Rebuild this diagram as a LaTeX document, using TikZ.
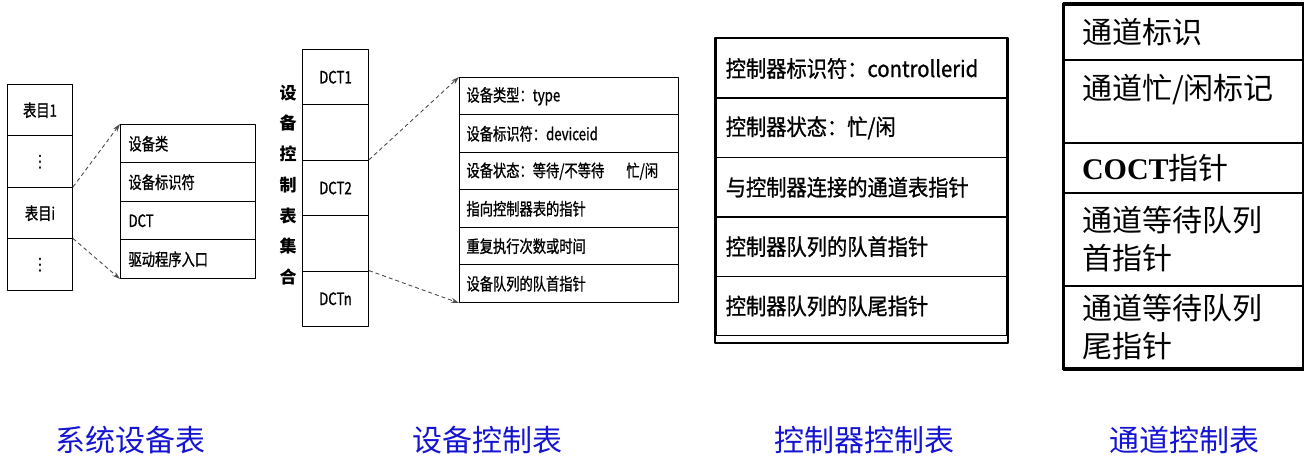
\documentclass[tikz,border=0pt]{standalone}
\usepackage{fontspec}
\setmainfont{Liberation Serif}
\newfontfamily\cjk{Noto Sans CJK SC}
\newfontfamily\symfont{DejaVu Sans}
\newfontfamily\cjkslim[FakeStretch=0.78,FakeBold=1]{Noto Sans CJK SC}
\newfontfamily\cjkmid[FakeStretch=0.9,FakeBold=1]{Noto Sans CJK SC}
\newcommand\sdtfont{\cjkslim\fontsize{17}{20}\selectfont}
\newcommand\coctfont{\cjkmid\fontsize{22.5}{26}\selectfont}
\newcommand\chctfont{\cjk\fontsize{30}{38}\selectfont}
\newcommand\vtfont{\cjk\bfseries\fontsize{17}{30.7}\selectfont}
\newcommand\vdotsign{{\symfont ⋮}}
\definecolor{labelblue}{RGB}{20,20,210}
\usetikzlibrary{arrows.meta}

\begin{document}
\begin{tikzpicture}[x=1pt, y=-1pt, line join=round, >={Stealth[length=8pt, width=5pt]},
    crow/.style 2 args={draw, line width=1pt, anchor=north west, inner sep=0pt, minimum width=#1, minimum height=#2, align=center},
    lrow/.style 2 args={draw, line width=1pt, anchor=north west, inner xsep=8pt, inner ysep=0pt, text width=#1-16pt, minimum height=#2, align=left},
    link/.style={->, dash pattern=on 4pt off 3pt, gray!60!black, line width=0.9pt},
    caption/.style={font=\cjk\fontsize{30}{32}\selectfont, text=labelblue}]
  \useasboundingbox (0,0) rectangle (1304,470);

  % system device table
  \foreach \t [count=\i] in {表目1, \vdotsign, 表目i, \vdotsign}
    \node[crow={65}{51.5}, font=\sdtfont] (sdt\i) at ({7},{84+(\i-1)*51.5}) {\t};
  \foreach \t [count=\i] in {设备类, 设备标识符, DCT, 驱动程序入口}
    \node[lrow={135}{38.5}, font=\sdtfont] (sdf\i) at ({120},{124+(\i-1)*38.5}) {\t};
  \draw[link] (sdt3.north east) -- (sdf1.north west);
  \draw[link] (sdt4.north east) -- (sdf4.south west);

  % device control table
  \node[font=\vtfont, align=center] (dctset) at (288,185) {设\\备\\控\\制\\表\\集\\合};
  \foreach \t [count=\i] in {DCT1, {}, DCT2, {}, DCTn}
    \node[crow={66}{55.4}, font=\sdtfont] (dct\i) at ({302},{49+(\i-1)*55.4}) {\t};
  \foreach \t [count=\i] in {设备类型：type, 设备标识符：deviceid, \mbox{设备状态：等待/不等待\hspace{1.3em}忙/闲},
      指向控制器表的指针, 重复执行次数或时间, 设备队列的队首指针}
    \node[lrow={219}{37.5}, inner xsep=7pt, text width=205pt, font=\sdtfont] (dcf\i) at ({459},{77+(\i-1)*37.5}) {\t};
  \draw[link] (dct3.north east) -- (dcf1.north west);
  \draw[link] (dct5.north east) -- (dcf6.south west);

  % controller control table
  \foreach \t [count=\i] in {控制器标识符：controllerid, 控制器状态：忙/闲, 与控制器连接的通道表指针,
      控制器队列的队首指针, 控制器队列的队尾指针}
    \node[lrow={291}{59.4}, inner xsep=10pt, text width=271pt, line width=1.5pt, font=\coctfont] (coct\i) at ({715},{38+(\i-1)*59.4}) {\t};
  \draw[line width=2pt] (coct1.north west) rectangle ([yshift=-7pt]coct5.south east);

  % channel control table
  \node[lrow={239}{55}, line width=2pt, inner xsep=18pt, text width=203pt, font=\chctfont] (chct1) at (1063,4) {通道标识};
  \node[lrow={239}{83}, line width=2pt, inner xsep=18pt, text width=203pt, font=\chctfont] (chct2) at (1063,59) {通道忙/闲标记\\[-8pt]\mbox{}};
  \node[lrow={239}{50}, line width=2pt, inner xsep=18pt, text width=203pt, font=\chctfont] (chct3) at (1063,142) {{\rmfamily\bfseries COCT}指针};
  \node[lrow={239}{93}, line width=2pt, inner xsep=18pt, text width=203pt, font=\chctfont] (chct4) at (1063,192) {通道等待队列\\首指针};
  \node[lrow={239}{82}, line width=2pt, inner xsep=18pt, text width=203pt, font=\chctfont] (chct5) at (1063,285) {通道等待队列\\尾指针};
  \draw[line width=3pt] (chct1.north west) rectangle (chct5.south east);

  % captions
  \node[caption] (cap1) at (130,440) {系统设备表};
  \node[caption] (cap2) at (487,440) {设备控制表};
  \node[caption] (cap3) at (864,440) {控制器控制表};
  \node[caption] (cap4) at (1184,440) {通道控制表};
\end{tikzpicture}
\end{document}
